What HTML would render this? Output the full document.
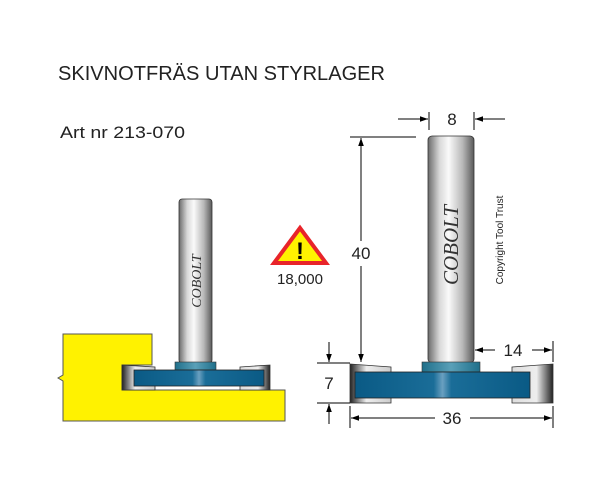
<!DOCTYPE html><html><head><style>body{margin:0;background:#fff}svg{display:block}</style></head><body>
<svg width="612" height="494" viewBox="0 0 612 494" xmlns="http://www.w3.org/2000/svg" font-family="Liberation Sans, sans-serif">
<defs>
<linearGradient id="sh" x1="0" x2="1"><stop offset="0" stop-color="#6a6a6a"/><stop offset=".25" stop-color="#d8d8d8"/><stop offset=".45" stop-color="#fafafa"/><stop offset=".75" stop-color="#b8b8b8"/><stop offset="1" stop-color="#5a5a5a"/></linearGradient>
<linearGradient id="bl" x1="0" x2="1"><stop offset="0" stop-color="#0a5a85"/><stop offset=".45" stop-color="#1a6d98"/><stop offset=".5" stop-color="#6aa0c0"/><stop offset=".55" stop-color="#1a6d98"/><stop offset="1" stop-color="#0a5a85"/></linearGradient>
<linearGradient id="cl" x1="0" x2="1"><stop offset="0" stop-color="#1f6f8a"/><stop offset=".5" stop-color="#5aa0b8"/><stop offset="1" stop-color="#1f6f8a"/></linearGradient>
<linearGradient id="ctL" x1="0" x2="1"><stop offset="0" stop-color="#222"/><stop offset=".4" stop-color="#eee"/><stop offset="1" stop-color="#ccc"/></linearGradient>
<linearGradient id="ctR" x1="0" x2="1"><stop offset="0" stop-color="#ddd"/><stop offset=".6" stop-color="#eee"/><stop offset="1" stop-color="#222"/></linearGradient>
<marker id="a" viewBox="0 0 10 10" refX="10" refY="5" markerWidth="8" markerHeight="8" orient="auto-start-reverse"><path d="M0,1.5L10,5L0,8.5z" fill="#000"/></marker>
</defs>
<text x="58" y="80" font-size="20" textLength="327" lengthAdjust="spacingAndGlyphs" fill="#222">SKIVNOTFRÄS UTAN STYRLAGER</text>
<text x="60" y="138" font-size="17" textLength="125" lengthAdjust="spacingAndGlyphs" fill="#222">Art nr 213-070</text>

<path d="M63,334H152V365H122V390H285V421H63V381L58,378L63,375Z" fill="#fff200" stroke="#555" stroke-width="1"/>
<rect x="179" y="199" width="33" height="164" rx="3" fill="url(#sh)" stroke="#333" stroke-width=".8"/>
<text transform="translate(201,281) rotate(-90)" text-anchor="middle" font-family="Liberation Serif,serif" font-style="italic" font-size="14" fill="#333">COBOLT</text>
<path d="M122,365L155,367V390H122Z" fill="url(#ctL)" stroke="#333" stroke-width=".8"/>
<path d="M240,367L270,365V390H240Z" fill="url(#ctR)" stroke="#333" stroke-width=".8"/>
<rect x="175" y="362" width="41" height="8" fill="url(#cl)" stroke="#333" stroke-width=".6"/>
<rect x="134" y="370" width="130" height="16" fill="url(#bl)" stroke="#222" stroke-width=".8"/>

<path d="M300,228L274,263H326Z" fill="#fff200" stroke="#e8242a" stroke-width="4" stroke-linejoin="miter"/>
<text x="300" y="259" text-anchor="middle" font-size="24" font-weight="bold" fill="#000">!</text>
<text x="300" y="284" text-anchor="middle" font-size="15" fill="#222">18,000</text>

<rect x="428" y="136" width="46" height="227" rx="4" fill="url(#sh)" stroke="#333" stroke-width=".8"/>
<text transform="translate(458,245) rotate(-90)" text-anchor="middle" font-family="Liberation Serif,serif" font-style="italic" font-size="21" fill="#333">COBOLT</text>
<text transform="translate(503,240) rotate(-90)" text-anchor="middle" font-size="10" fill="#222">Copyright Tool Trust</text>
<path d="M350,364L391,367V403H350Z" fill="url(#ctL)" stroke="#333" stroke-width=".8"/>
<path d="M512,367L553,364V403H512Z" fill="url(#ctR)" stroke="#333" stroke-width=".8"/>
<rect x="422" y="362" width="58" height="10" fill="url(#cl)" stroke="#333" stroke-width=".6"/>
<rect x="355" y="372" width="175" height="26" fill="url(#bl)" stroke="#222" stroke-width=".8"/>

<g stroke="#000" stroke-width="1" fill="none">
<line x1="429" y1="112" x2="429" y2="130"/><line x1="474" y1="112" x2="474" y2="130"/>
<line x1="398" y1="119" x2="428" y2="119" marker-end="url(#a)"/>
<line x1="505" y1="119" x2="475" y2="119" marker-end="url(#a)"/>
<line x1="350" y1="137" x2="416" y2="137"/>
<line x1="361" y1="241" x2="361" y2="138" marker-end="url(#a)"/>
<line x1="361" y1="266" x2="361" y2="362" marker-end="url(#a)"/>
<line x1="317" y1="363" x2="350" y2="363"/><line x1="317" y1="403" x2="350" y2="403"/>
<line x1="329" y1="342" x2="329" y2="362" marker-end="url(#a)"/>
<line x1="329" y1="424" x2="329" y2="404" marker-end="url(#a)"/>
<line x1="553" y1="341" x2="553" y2="362"/>
<line x1="495" y1="350" x2="475" y2="350" marker-end="url(#a)"/>
<line x1="532" y1="350" x2="552" y2="350" marker-end="url(#a)"/>
<line x1="350" y1="406" x2="350" y2="428"/><line x1="553" y1="406" x2="553" y2="428"/>
<line x1="435" y1="418" x2="351" y2="418" marker-end="url(#a)"/>
<line x1="470" y1="418" x2="552" y2="418" marker-end="url(#a)"/>
</g>
<g font-size="17" fill="#222" text-anchor="middle">
<text x="452" y="125">8</text>
<text x="361" y="259">40</text>
<text x="329" y="389">7</text>
<text x="513" y="356">14</text>
<text x="452" y="424">36</text>
</g>
</svg>
</body></html>
